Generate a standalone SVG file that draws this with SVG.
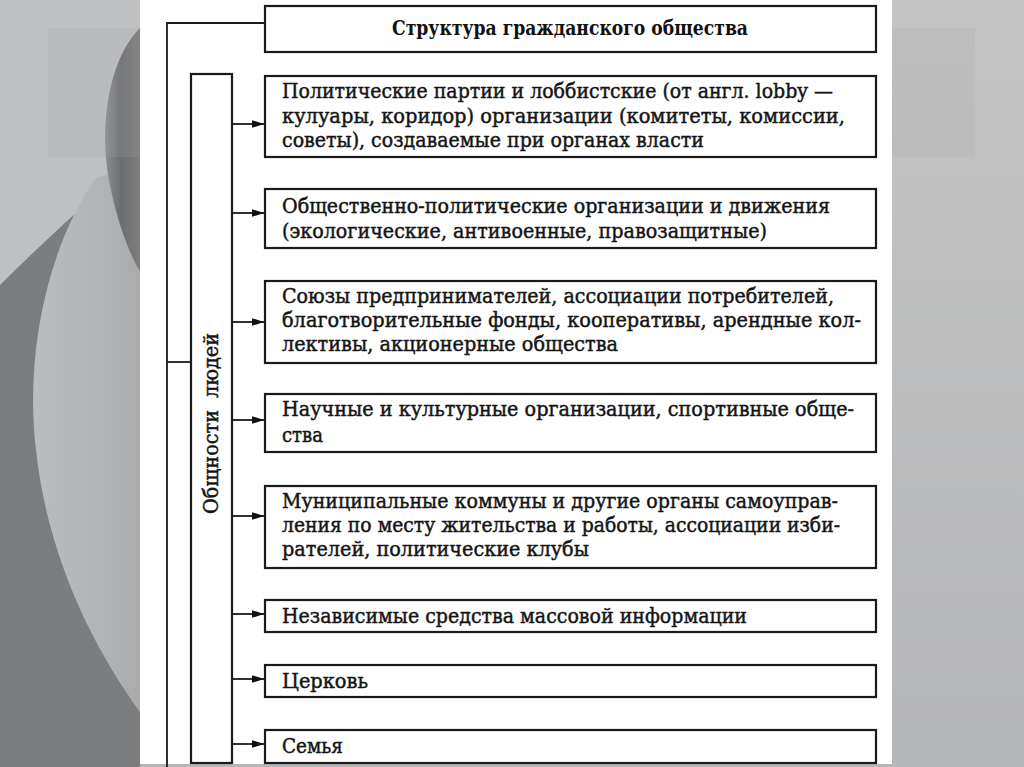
<svg xmlns="http://www.w3.org/2000/svg" width="1024" height="767" viewBox="0 0 1024 767">
  <defs>
    <linearGradient id="bgR" x1="0" y1="0" x2="0" y2="1">
      <stop offset="0" stop-color="#c3c3c3"/>
      <stop offset="1" stop-color="#b6b7b9"/>
    </linearGradient>
    <linearGradient id="lens" x1="0" y1="0" x2="1" y2="0">
      <stop offset="0" stop-color="#bbbcbd"/>
      <stop offset="0.6" stop-color="#b3b4b6"/>
      <stop offset="1" stop-color="#aaabad"/>
    </linearGradient>
    <linearGradient id="cres" x1="0" y1="0" x2="1" y2="0">
      <stop offset="0" stop-color="#8e8f91"/>
      <stop offset="0.45" stop-color="#6c6d6f"/>
      <stop offset="1" stop-color="#7d7e80"/>
    </linearGradient>
    <marker id="arr" markerWidth="14" markerHeight="10" refX="12" refY="5" orient="auto" markerUnits="userSpaceOnUse">
      <path d="M0,1.2 L12,5 L0,8.8 Z" fill="#111"/>
    </marker>
    <style>
      .box { fill: #fff; stroke: #1a1a1a; stroke-width: 2.2; }
      .ln { fill: none; stroke: #1a1a1a; stroke-width: 1.8; }
      .t { font-family: "DejaVu Serif", "Liberation Serif", serif; font-size: 20px; fill: #141414; stroke: #141414; stroke-width: 0.45; }
      .title { font-family: "DejaVu Serif", "Liberation Serif", serif; font-size: 19.5px; font-weight: bold; fill: #111; }
    </style>
  </defs>

  <!-- background -->
  <rect x="0" y="0" width="1024" height="767" fill="url(#bgR)"/>
  <rect x="0" y="0" width="140" height="767" fill="#bfc0c1"/>
  <path d="M0,285 C40,245 85,205 120,172 L140,160 L140,767 L0,767 Z" fill="#7c7d7f"/>
  <path d="M96,178 C45,250 25,360 36,450 C48,560 95,650 140,712 L140,165 Z" fill="url(#lens)"/>
  <path d="M140,28 C108,60 100,125 108,175 C116,220 128,250 140,272 Z" fill="url(#cres)"/>
  <rect x="48" y="28" width="927" height="129" fill="#a8a8a8" opacity="0.18"/>

  <!-- page -->
  <rect x="140" y="0" width="752" height="764" fill="#ffffff"/>

  <!-- connectors -->
  <g id="connectors">
    <path class="ln" d="M265,23 H167 V767"/>
    <path class="ln" d="M167,362 H191"/>
    <g class="ln" marker-end="url(#arr)">
      <line x1="232" y1="124" x2="264" y2="124"/>
      <line x1="232" y1="213" x2="264" y2="213"/>
      <line x1="232" y1="322" x2="264" y2="322"/>
      <line x1="232" y1="420" x2="264" y2="420"/>
      <line x1="232" y1="516" x2="264" y2="516"/>
      <line x1="232" y1="614" x2="264" y2="614"/>
      <line x1="232" y1="679" x2="264" y2="679"/>
      <line x1="232" y1="744" x2="264" y2="744"/>
    </g>
  </g>

  <g id="title">
    <rect class="box" x="265" y="6" width="611" height="46"/>
    <text class="title" x="392" y="35" textLength="356" lengthAdjust="spacingAndGlyphs">Структура гражданского общества</text>
  </g>

  <g id="community">
    <rect class="box" x="191" y="74" width="41" height="689"/>
    <text class="t" transform="translate(218,514) rotate(-90)" x="0" y="0" textLength="181" lengthAdjust="spacingAndGlyphs" word-spacing="6">Общности людей</text>
  </g>

  <g id="n1">
    <rect class="box" x="265" y="76" width="611" height="81"/>
    <text class="t" x="282" y="98" textLength="551" lengthAdjust="spacingAndGlyphs">Политические партии и лоббистские (от англ. lobby —</text>
    <text class="t" x="282" y="123" textLength="563" lengthAdjust="spacingAndGlyphs">кулуары, коридор) организации (комитеты, комиссии,</text>
    <text class="t" x="282" y="147" textLength="422" lengthAdjust="spacingAndGlyphs">советы), создаваемые при органах власти</text>
  </g>

  <g id="n2">
    <rect class="box" x="265" y="189" width="611" height="59"/>
    <text class="t" x="282" y="213" textLength="548" lengthAdjust="spacingAndGlyphs">Общественно-политические организации и движения</text>
    <text class="t" x="282" y="238" textLength="485" lengthAdjust="spacingAndGlyphs">(экологические, антивоенные, правозащитные)</text>
  </g>

  <g id="n3">
    <rect class="box" x="265" y="281" width="611" height="82"/>
    <text class="t" x="282" y="303" textLength="552" lengthAdjust="spacingAndGlyphs">Союзы предпринимателей, ассоциации потребителей,</text>
    <text class="t" x="282" y="327" textLength="579" lengthAdjust="spacingAndGlyphs">благотворительные фонды, кооперативы, арендные кол-</text>
    <text class="t" x="282" y="351" textLength="336" lengthAdjust="spacingAndGlyphs">лективы, акционерные общества</text>
  </g>

  <g id="n4">
    <rect class="box" x="265" y="394" width="611" height="58"/>
    <text class="t" x="282" y="416" textLength="572" lengthAdjust="spacingAndGlyphs">Научные и культурные организации, спортивные обще-</text>
    <text class="t" x="282" y="442" textLength="41" lengthAdjust="spacingAndGlyphs">ства</text>
  </g>

  <g id="n5">
    <rect class="box" x="265" y="486" width="611" height="82"/>
    <text class="t" x="282" y="508" textLength="556" lengthAdjust="spacingAndGlyphs">Муниципальные коммуны и другие органы самоуправ-</text>
    <text class="t" x="282" y="532" textLength="558" lengthAdjust="spacingAndGlyphs">ления по месту жительства и работы, ассоциации изби-</text>
    <text class="t" x="282" y="556" textLength="307" lengthAdjust="spacingAndGlyphs">рателей, политические клубы</text>
  </g>

  <g id="n6">
    <rect class="box" x="265" y="600" width="611" height="32"/>
    <text class="t" x="282" y="623" textLength="465" lengthAdjust="spacingAndGlyphs">Независимые средства массовой информации</text>
  </g>

  <g id="n7">
    <rect class="box" x="265" y="665" width="611" height="32"/>
    <text class="t" x="282" y="688" textLength="86" lengthAdjust="spacingAndGlyphs">Церковь</text>
  </g>

  <g id="n8">
    <rect class="box" x="265" y="730" width="611" height="33"/>
    <text class="t" x="282" y="753" textLength="61" lengthAdjust="spacingAndGlyphs">Семья</text>
  </g>
</svg>
